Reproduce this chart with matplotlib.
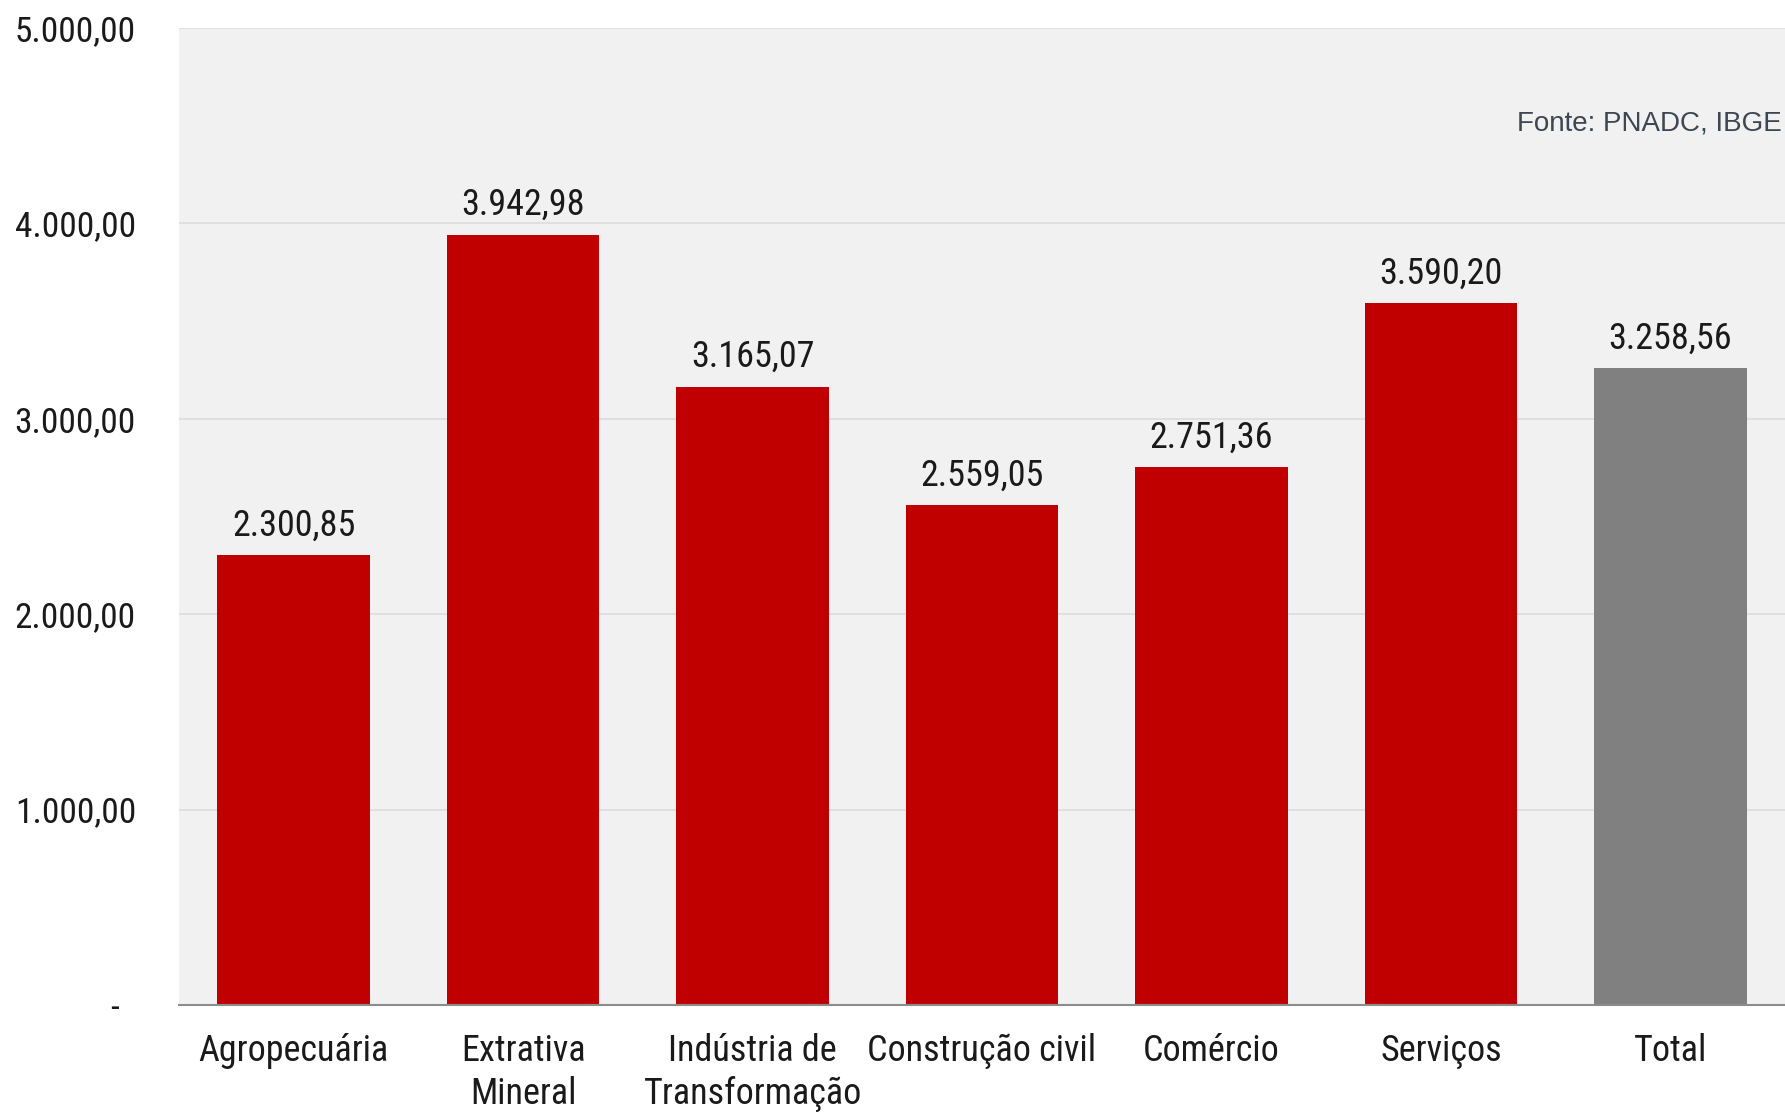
import matplotlib
matplotlib.use('Agg')
import matplotlib.pyplot as plt
from matplotlib.ticker import FuncFormatter

setores = ['Agropecuária', 'Extrativa\nMineral', 'Indústria de\nTransformação',
           'Construção civil', 'Comércio', 'Serviços', 'Total']
rendimento = [2300.85, 3942.98, 3165.07, 2559.05, 2751.36, 3590.20, 3258.56]
cores = ['#c00000'] * 6 + ['#808080']
yticks = [0, 1000, 2000, 3000, 4000, 5000]

plt.rcParams['font.family'] = ['Roboto Condensed', 'Archivo Narrow', 'DejaVu Sans']


def br(v):
    # formato brasileiro: 3.942,98
    s = '{:,.2f}'.format(v)
    return s.replace(',', 'X').replace('.', ',').replace('X', '.')


def fmt_eixo(v, pos):
    if v == 0:
        return '-  '
    return br(v)


fig = plt.figure(figsize=(17.85, 11.14), dpi=100)
ax = fig.add_axes([179 / 1785, 1 - 1005 / 1114, 1 - 179 / 1785, (1005 - 28) / 1114])
ax.set_facecolor('#f1f1f1')

x = list(range(len(setores)))
bars = ax.bar(x, rendimento, width=0.665, color=cores, zorder=3)
for b, v in zip(bars, rendimento):
    ax.text(b.get_x() + b.get_width() / 2, v + 60, br(v), ha='center', va='bottom',
            fontsize=26, color='#1a1a1a')

ax.set_xlim(-0.5, 6.5)
ax.set_ylim(0, 5000)
ax.set_yticks(yticks)
ax.yaxis.set_major_formatter(FuncFormatter(fmt_eixo))
ax.set_xticks(x)
ax.set_xticklabels(setores, fontsize=26, linespacing=1.25)
ax.tick_params(axis='y', length=0, pad=31, labelsize=25.5)
ax.tick_params(axis='x', length=0, pad=20)
for lab in ax.get_yticklabels():
    lab.set_color('#1a1a1a')
for lab in ax.get_xticklabels():
    lab.set_color('#1a1a1a')

ax.grid(axis='y', color='#dcdcdc', linewidth=1.2, zorder=0)
for s in ['top', 'right', 'left']:
    ax.spines[s].set_visible(False)
ax.spines['bottom'].set_color('#8c8c8c')
ax.spines['bottom'].set_linewidth(1.5)
ax.spines['bottom'].set_zorder(4)

ax.text(0.998, 0.902, 'Fonte: PNADC, IBGE', transform=ax.transAxes, ha='right',
        va='center', fontsize=20, color='#3d4752', family=['Liberation Sans', 'DejaVu Sans'])

fig.savefig('out.png', dpi=100)
